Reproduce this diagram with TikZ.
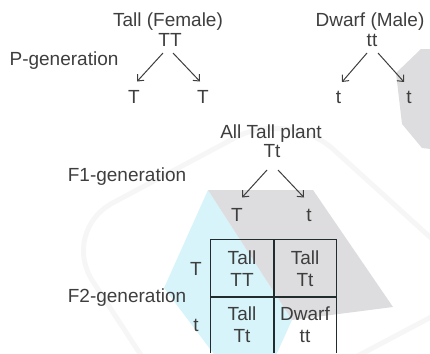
\documentclass[tikz,border=0pt]{standalone}
\usepackage{fontspec}
\setmainfont{Liberation Sans}
\usetikzlibrary{arrows.meta}

\definecolor{ink}{RGB}{62,62,62}
\definecolor{rule}{RGB}{32,44,46}
\definecolor{wmcyan}{RGB}{214,244,250}
\definecolor{wmgray}{RGB}{221,221,223}
\definecolor{wmfaint}{RGB}{246,246,246}

\begin{document}
\begin{tikzpicture}
[x=1pt,y=-1pt,
 gene/.style={text=ink,font=\fontsize{19}{22}\selectfont,inner sep=0pt,
   text height=13.6pt,text depth=4pt},
 cell/.style={text=ink,font=\fontsize{19}{22}\selectfont,inner sep=0pt,
   align=center,minimum width=63pt},
 inherit/.style={ink,line width=1pt,-{Straight Barb[length=5pt,width=9pt]}},
 frame/.style={rule,line width=1.2pt},
 midframe/.style={rule,line width=1.8pt}]

\useasboundingbox (0,0) rectangle (430,353);
\clip (0,0) rectangle (430,353);

% background marks
\draw [wmfaint,line width=5pt,rounded corners=60pt]
	(60,231) -- (289,109) -- (486,288) -- (197,441) -- cycle;
\fill [wmcyan] (208,190) -- (164,288) -- (253,406) -- (292,320) -- cycle;
\fill [wmgray] (208,190) -- (313,190) -- (393,307) -- (292,320) -- cycle;
\fill [wmgray] (396,73) -- (421,49) -- (440,49) -- (440,150)
	-- (422,148) -- (402,124) -- cycle;

% P-generation
\draw (168,22) node (female) [gene] {Tall (Female)};
\draw (170,42) node (TT) [gene] {TT};
\draw (64,61) node (pgen) [gene] {P-generation};
\draw (134,98.5) node (T1) [gene] {T};
\draw (203,98.5) node (T2) [gene] {T};
\draw [inherit] ([xshift=-7pt,yshift=-2pt]TT.south) -- ([xshift=3pt,yshift=8pt]T1.north);
\draw [inherit] ([xshift=3pt,yshift=-2pt]TT.south) -- ([xshift=-3pt,yshift=8pt]T2.north);

\draw (370,21.5) node (male) [gene] {Dwarf (Male)};
\draw (372,42) node (tt) [gene] {tt};
\draw (338.5,99) node (t1) [gene] {t};
\draw (409,99) node (t2) [gene] {t};
\draw [inherit] ([xshift=-5pt,yshift=-2pt]tt.south) -- ([xshift=3.5pt,yshift=8pt]t1.north);
\draw [inherit] ([xshift=6pt,yshift=-2pt]tt.south) -- ([xshift=-5pt,yshift=8pt]t2.north);

% F1-generation
\draw (271,133.5) node (allTall) [gene] {All Tall plant};
\draw (272,153) node (Tt) [gene] {Tt};
\draw (127,176.5) node (f1gen) [gene] {F1-generation};
\draw (237,216.5) node (T3) [gene] {T};
\draw (309,216.5) node (t3) [gene] {t};
\draw [inherit] ([xshift=-5pt,yshift=-8pt]Tt.south) -- ([xshift=5pt,yshift=10pt]T3.north);
\draw [inherit] ([xshift=6pt,yshift=-8pt]Tt.south) -- ([xshift=-5pt,yshift=10pt]t3.north);

% F2-generation
\draw (127,297.5) node (f2gen) [gene] {F2-generation};
\draw (196,270.5) node (rowT) [gene] {T};
\draw (196,327) node (rowt) [gene] {t};

\draw (242,268.5) node (c11) [cell,minimum height=57pt] {Tall\\TT};
\draw (305,268.5) node (c12) [cell,minimum height=57pt] {Tall\\Tt};
\draw (242,325) node (c21) [cell,minimum height=56pt] {Tall\\Tt};
\draw (305,325) node (c22) [cell,minimum height=56pt] {Dwarf\\tt};

\draw [frame] (c21.south west) -- (c11.north west) -- (c12.north east) -- (c22.south east);
\draw [midframe] (c11.north east) -- (c21.south east);
\draw [midframe] (c11.south west) -- (c12.south east);
\end{tikzpicture}
\end{document}
